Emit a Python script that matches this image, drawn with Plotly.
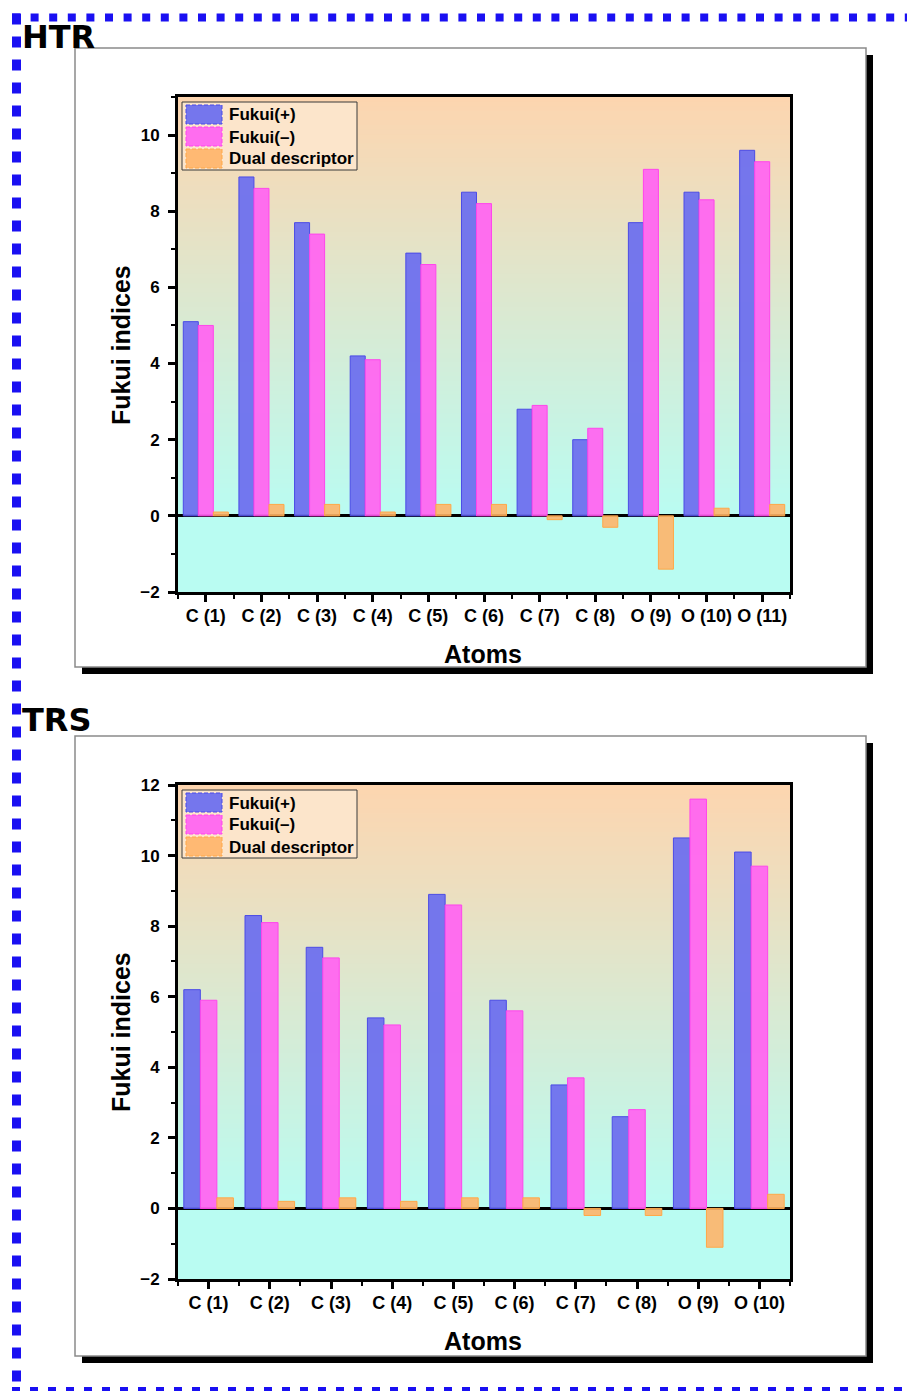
import plotly.graph_objects as go

W, H = 907, 1391

# ---------------- data ----------------
atoms_htr = ["C (1)", "C (2)", "C (3)", "C (4)", "C (5)", "C (6)", "C (7)", "C (8)", "O (9)", "O (10)", "O (11)"]
htr_fplus = [5.1, 8.9, 7.7, 4.2, 6.9, 8.5, 2.8, 2.0, 7.7, 8.5, 9.6]
htr_fminus = [5.0, 8.6, 7.4, 4.1, 6.6, 8.2, 2.9, 2.3, 9.1, 8.3, 9.3]
htr_dual = [0.1, 0.3, 0.3, 0.1, 0.3, 0.3, -0.1, -0.3, -1.4, 0.2, 0.3]

atoms_trs = ["C (1)", "C (2)", "C (3)", "C (4)", "C (5)", "C (6)", "C (7)", "C (8)", "O (9)", "O (10)"]
trs_fplus = [6.2, 8.3, 7.4, 5.4, 8.9, 5.9, 3.5, 2.6, 10.5, 10.1]
trs_fminus = [5.9, 8.1, 7.1, 5.2, 8.6, 5.6, 3.7, 2.8, 11.6, 9.7]
trs_dual = [0.3, 0.2, 0.3, 0.2, 0.3, 0.3, -0.2, -0.2, -1.1, 0.4]

series_names = ["Fukui(+)", "Fukui(\u2013)", "Dual descriptor"]
fill_colors = ["rgba(110,112,238,0.95)", "rgba(255,102,240,0.95)", "rgba(255,180,105,0.9)"]
line_colors = ["#4B4BE6", "#FF45EC", "#FFA848"]

panel_titles = ["HTR", "TRS"]
y_ranges = [[-2, 11], [-2, 12]]


def px(x):
    return x / W


def py(y):
    return 1 - y / H


FONT = "Liberation Sans, Arial, sans-serif"

fig = go.Figure()

panels = [
    dict(atoms=atoms_htr, vals=[htr_fplus, htr_fminus, htr_dual], xa="x", ya="y",
         plot=(178, 97, 790, 592), box=(75, 48, 866, 667), title_y=37, ytitle_y=345, xtitle_y=654),
    dict(atoms=atoms_trs, vals=[trs_fplus, trs_fminus, trs_dual], xa="x2", ya="y2",
         plot=(178, 785, 790, 1279), box=(75, 736, 866, 1356), title_y=720, ytitle_y=1032, xtitle_y=1341),
]

shapes = []
annotations = []

# ----- blue dotted frame -----
BLUE = "#1A10F2"
shapes.append(dict(type="line", xref="paper", yref="paper", x0=px(12), x1=px(907), y0=py(17.5), y1=py(17.5),
                   line=dict(color=BLUE, width=8, dash="8px,10.6px"), layer="above"))
shapes.append(dict(type="line", xref="paper", yref="paper", x0=px(16.5), x1=px(16.5), y0=py(13.5), y1=py(1386),
                   line=dict(color=BLUE, width=9, dash="11px,12px"), layer="above"))
shapes.append(dict(type="line", xref="paper", yref="paper", x0=px(12), x1=px(907), y0=py(1390), y1=py(1390),
                   line=dict(color=BLUE, width=6, dash="8px,10px"), layer="above"))

layout_axes = {}
for i, p in enumerate(panels):
    x0p, y0p, x1p, y1p = p["plot"]
    bx0, by0, bx1, by1 = p["box"]
    n = len(p["atoms"])
    xs = list(range(n))
    sfx = "" if i == 0 else "2"

    # shadow + white panel
    shapes.append(dict(type="rect", xref="paper", yref="paper", x0=px(bx0 + 7), x1=px(bx1 + 7),
                       y0=py(by0 + 7), y1=py(by1 + 7), fillcolor="black", line=dict(width=0), layer="below"))
    shapes.append(dict(type="rect", xref="paper", yref="paper", x0=px(bx0), x1=px(bx1),
                       y0=py(by0), y1=py(by1), fillcolor="white", line=dict(color="#8A8A8A", width=1.5),
                       layer="below"))

    # gradient background: peach at top -> cyan at zero, flat cyan below zero
    ylo, yhi = y_ranges[i]
    top_c = (253, 213, 175)
    bot_c = (185, 252, 242)
    shapes.append(dict(type="rect", xref=p["xa"] + " domain", yref=p["ya"], x0=0, x1=1, y0=ylo, y1=0,
                       fillcolor="rgb(%d,%d,%d)" % bot_c, line=dict(width=0), layer="below"))
    nstrip = 90
    for k in range(nstrip):
        a0 = yhi * k / nstrip
        a1 = yhi * (k + 1) / nstrip
        t = (a0 + a1) / 2 / yhi
        c = tuple(int(round(bot_c[j] + (top_c[j] - bot_c[j]) * t)) for j in range(3))
        shapes.append(dict(type="rect", xref=p["xa"] + " domain", yref=p["ya"], x0=0, x1=1,
                           y0=a0, y1=min(a1 + yhi / nstrip * 0.5, yhi),
                           fillcolor="rgb(%d,%d,%d)" % c, line=dict(width=0), layer="below"))

    # bars
    for s in range(3):
        fig.add_trace(go.Bar(
            x=xs, y=p["vals"][s], name=series_names[s], xaxis=p["xa"], yaxis=p["ya"],
            marker=dict(color=fill_colors[s], line=dict(color=line_colors[s], width=1)),
            offsetgroup=str(s), showlegend=False,
        ))

    # axes
    layout_axes["xaxis" + sfx] = dict(
        domain=[px(x0p), px(x1p)], anchor="y" + sfx, range=[-0.5, n - 0.5], automargin=False,
        tickmode="array", tickvals=xs, ticktext=p["atoms"],
        ticks="outside", ticklen=7, tickwidth=2.5, tickcolor="black",
        minor=dict(tickmode="array", tickvals=[v + 0.5 for v in range(-1, n)], ticks="outside",
                   ticklen=4, tickwidth=2, tickcolor="black"),
        showline=True, linewidth=3, linecolor="black", mirror=True,
        showgrid=False, zeroline=False, fixedrange=True,
        tickfont=dict(family=FONT, size=18, color="black", weight="bold"),
        ticklabelstandoff=-2,
    )
    layout_axes["yaxis" + sfx] = dict(
        domain=[py(y1p), py(y0p)], anchor="x" + sfx, range=y_ranges[i], automargin=False,
        tickmode="linear", tick0=0, dtick=2,
        ticks="outside", ticklen=7, tickwidth=2.5, tickcolor="black",
        minor=dict(tickmode="linear", tick0=1, dtick=2, ticks="outside", ticklen=4, tickwidth=2,
                   tickcolor="black"),
        showline=True, linewidth=3, linecolor="black", mirror=True,
        showgrid=False, zeroline=True, zerolinewidth=3, zerolinecolor="black",
        tickfont=dict(family=FONT, size=17, color="black", weight="bold"),
        ticklabelstandoff=5,
    )

    # panel title
    annotations.append(dict(text="<b>%s</b>" % panel_titles[i], xref="paper", yref="paper",
                            x=px(20), y=py(p["title_y"]), xanchor="left", yanchor="middle", showarrow=False,
                            font=dict(family="DejaVu Sans, sans-serif", size=32, color="black")))
    # axis titles
    annotations.append(dict(text="<b>Fukui indices</b>", xref="paper", yref="paper", x=px(121),
                            y=py(p["ytitle_y"]), xanchor="center", yanchor="middle", textangle=-90,
                            showarrow=False, font=dict(family=FONT, size=25, color="black")))
    annotations.append(dict(text="<b>Atoms</b>", xref="paper", yref="paper", x=px(483),
                            y=py(p["xtitle_y"]), xanchor="center", yanchor="middle",
                            showarrow=False, font=dict(family=FONT, size=25, color="black")))

    # legend box
    lx0, ly0 = 182, y0p + 5
    shapes.append(dict(type="rect", xref="paper", yref="paper", x0=px(lx0), x1=px(lx0 + 175),
                       y0=py(ly0), y1=py(ly0 + 68), fillcolor="#FCE5CB",
                       line=dict(color="#3A3A3A", width=1), layer="above"))
    for s in range(3):
        sy = ly0 + 3 + s * 22
        shapes.append(dict(type="rect", xref="paper", yref="paper", x0=px(lx0 + 4), x1=px(lx0 + 40),
                           y0=py(sy), y1=py(sy + 19), fillcolor=fill_colors[s],
                           line=dict(color=line_colors[s], width=1, dash="4px,2px"), layer="above"))
        annotations.append(dict(text="<b>%s</b>" % series_names[s], xref="paper", yref="paper",
                                x=px(lx0 + 45), y=py(sy + 10), xanchor="left", yanchor="middle",
                                showarrow=False, font=dict(family=FONT, size=17, color="black")))

fig.update_layout(
    width=W, height=H, margin=dict(l=0, r=0, t=0, b=0, pad=0, autoexpand=False),
    paper_bgcolor="white", plot_bgcolor="rgba(0,0,0,0)",
    barmode="group", bargap=0.19, bargroupgap=0,
    showlegend=False, shapes=shapes, annotations=annotations,
    **layout_axes,
)

fig.write_html("out.html")
